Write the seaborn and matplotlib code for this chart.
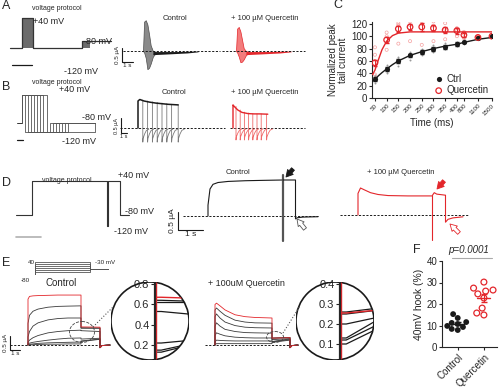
import numpy as np
import pandas as pd
import matplotlib.pyplot as plt
import seaborn as sns
from matplotlib.patches import Circle, Ellipse

# ---------------- data ----------------
# A: voltage protocol (s, mV) and current envelopes (s, uA)
A_prot_t = [0, 0.4, 0.4, 0.75, 0.75, 2.4, 2.4, 3.35]
A_prot_v = [-120, -120, 40, 40, -120, -120, -80, -80]
A_env_t = [0, 0.1, 0.25, 0.4, 0.55, 0.7, 0.9, 1.1]
A_ctrl_hi = [0, 1.05, 1.1, 0.95, 0.6, 0.2, 0.0, -0.02]
A_ctrl_lo = [0, -0.05, -0.25, -0.65, -0.6, -0.45, -0.2, -0.1]
A_querc_hi = [0, 0.8, 0.86, 0.7, 0.4, 0.1, 0.0, -0.02]
A_querc_lo = [0, -0.05, -0.2, -0.4, -0.38, -0.3, -0.15, -0.08]
A_band_t = [0.9, 2.0, 3.0, 4.0, 5.0]
A_band_hi = [-0.02, -0.02, -0.02, -0.01, 0.0]
A_band_lo = [-0.13, -0.11, -0.09, -0.07, -0.03]

# B: envelope of tail protocol
B_prot_step = [0.5, 1.0, 1.5, 2.0, 2.5, 3.0, 3.5, 4.2]
B_prot_back = [4.7, 5.2, 5.7, 6.2, 6.7, 7.2, 7.7, 12.2]
B_ctrl_t = [0, 0.3, 1.0, 2.0, 3.0, 4.0, 5.0, 6.7]
B_ctrl_env = [0.9, 0.95, 0.9, 0.86, 0.83, 0.81, 0.79, 0.77]
B_ctrl_ends = [0.8, 1.6, 2.4, 3.2, 4.0, 4.8, 5.6, 6.7]
B_ctrl_end_i = [0.93, 0.9, 0.87, 0.85, 0.83, 0.81, 0.79, 0.77]
B_querc_t = [0, 0.2, 0.8, 1.5, 2.5, 3.5, 4.5, 5.8]
B_querc_env = [0.77, 0.72, 0.6, 0.52, 0.48, 0.47, 0.47, 0.46]
B_querc_ends = [0.5, 1.2, 1.9, 2.6, 3.3, 4.0, 4.7, 5.6]
B_querc_end_i = [0.72, 0.6, 0.53, 0.5, 0.48, 0.47, 0.47, 0.46]
B_tail_dt = [0, 0.05, 0.3, 0.6, 1.0]
B_ctrl_tail = [-0.47, -0.35, -0.2, -0.08, -0.04]
B_querc_tail = [-0.4, -0.3, -0.17, -0.07, -0.03]

# C: normalized peak tail current
C_pos = [0, 1, 2, 3, 4, 5, 6, 7, 7.6, 8.8, 10.0]
C_labels = ['50', '100', '150', '200', '250', '300', '350', '400', '800', '1100', '1500']
ctrl_mean = [31, 47, 60, 69, 75, 79, 83, 87, 91, 97, 100]
ctrl_sem = [3, 3, 3, 3, 3, 3, 3, 3, 2, 2, 0]
querc_mean = [57, 94, 112, 115, 115, 113, 110, 109, 102, 98, 100]
querc_sem = [5, 5, 5, 5, 6, 5, 5, 5, 3, 2, 0]
ctrl_ind = [[24, 36, 38], [40, 44, 53], [52, 63, 66], [62, 71, 75], [70, 77, 80], [74, 80, 85],
            [80, 84, 89], [84, 88, 90], [88, 93, 95], [96, 98, 99], [100, 100, 100]]
querc_ind = [[38, 70, 82], [78, 100, 106], [88, 118, 121], [92, 118, 124], [86, 120, 126], [92, 117, 124],
             [95, 112, 121], [100, 108, 113], [97, 104, 107], [96, 99, 100], [100, 100, 100]]
C_fit_pos = [-0.2, 0, 0.3, 0.6, 1, 1.5, 2, 3, 4, 5, 6, 7, 7.6, 8.8, 10]
ctrl_fit = [27, 30, 36, 41, 47, 54, 60, 69, 75, 80, 84, 87, 90, 95, 98]
querc_fit = [38, 45, 62, 78, 92, 101, 105, 107, 107, 107, 107, 107, 107, 107, 107]

# D: hook protocol
D_prot_t = [0, 0.64, 0.64, 3.64, 3.64, 3.68, 3.68, 4.16, 4.16, 4.5]
D_prot_v = [-80, -80, 40, 40, -120, -120, 40, 40, -80, -80]
D_ctrl_t = [0, 0, 0.08, 0.2, 0.4, 0.8, 1.5, 2.2, 3.0]
D_ctrl_i = [0, 0.3, 0.75, 0.88, 0.93, 0.96, 0.98, 0.99, 1.0]
D_ctrl_post_t = [3.0, 3.5, 3.5, 3.56, 3.8, 4.4]
D_ctrl_post_i = [1.0, 1.0, -0.08, -0.05, -0.03, -0.02]
D_querc_t = [0, 0, 0.1, 0.25, 0.5, 0.8, 1.2, 2.0, 2.96]
D_querc_i = [0, 0.6, 0.75, 0.7, 0.62, 0.57, 0.54, 0.53, 0.53]
D_querc_post_t = [2.98, 3.05, 3.15, 3.5, 3.5, 3.6, 3.8, 4.2]
D_querc_post_i = [0.55, 0.62, 0.58, 0.55, -0.2, -0.12, -0.08, -0.05]

# E: step family
E_prot_v = [40, 20, 0, -20, -40, -60]
E_t = [0, 0.15, 0.5, 1.0, 2.0, 3.0, 4.0, 5.3]
E_ctrl = [[1.7, 1.8, 1.82, 1.83, 1.84, 1.85, 1.85, 1.85],
          [0.8, 1.1, 1.25, 1.33, 1.4, 1.43, 1.44, 1.45],
          [0.3, 0.5, 0.7, 0.82, 0.93, 0.98, 1.0, 1.0],
          [0.1, 0.18, 0.27, 0.35, 0.45, 0.5, 0.53, 0.55],
          [0.05, 0.07, 0.1, 0.13, 0.18, 0.22, 0.25, 0.26],
          [0.02, 0.03, 0.04, 0.06, 0.08, 0.09, 0.1, 0.11],
          [0.0, 0.01, 0.01, 0.02, 0.03, 0.03, 0.04, 0.04]]
E_ctrl_tail_s = [0.67, 0.64, 0.62, 0.53, 0.22, 0.15, 0.13]
E_ctrl_tail_e = [0.66, 0.63, 0.62, 0.50, 0.25, 0.22, 0.21]
E_q_t = [0, 0.15, 0.5, 1.0, 2.0, 3.0, 4.0, 5.7]
E_querc = [[1.5, 1.55, 1.45, 1.3, 1.12, 1.05, 1.02, 1.0],
           [1.3, 1.37, 1.25, 1.1, 0.92, 0.85, 0.82, 0.81],
           [1.05, 1.15, 1.0, 0.85, 0.72, 0.66, 0.64, 0.63],
           [0.7, 0.82, 0.7, 0.58, 0.5, 0.46, 0.45, 0.44],
           [0.35, 0.45, 0.4, 0.34, 0.29, 0.27, 0.26, 0.26],
           [0.12, 0.18, 0.17, 0.16, 0.15, 0.15, 0.15, 0.15],
           [0.02, 0.05, 0.05, 0.05, 0.05, 0.05, 0.05, 0.05]]
E_querc_tail_s = [0.255, 0.26, 0.25, 0.2, 0.13, 0.12, 0.1]
E_querc_tail_e = [0.27, 0.28, 0.27, 0.235, 0.225, 0.2, 0.18]

# F: 40 mV hook
F_ctrl = [15.3, 13.5, 11.6, 11.2, 10.7, 9.8, 9.3, 8.4, 7.9]
F_querc = [30.2, 27.4, 26.5, 26.0, 24.7, 22.8, 18.1, 15.8, 14.9]

# ---------------- layout ----------------
sns.set_theme(style='white')
plt.rcParams['font.family'] = ['Liberation Sans', 'DejaVu Sans']
plt.rcParams['axes.linewidth'] = 0.8

W, H = 500, 391
RED = '#e3262b'
DARK = '#333333'
fig = plt.figure(figsize=(W / 100, H / 100), dpi=100)
fig.patch.set_facecolor('white')


def box_ax(x0, y0, x1, y1, **kw):
    ax = fig.add_axes([x0 / W, 1 - y1 / H, (x1 - x0) / W, (y1 - y0) / H], **kw)
    ax.patch.set_alpha(0)
    return ax


def trace_ax(x0, y0, x1, y1, ox, oy, sx, sy):
    ax = box_ax(x0, y0, x1, y1)
    ax.set_xlim((x0 - ox) / sx, (x1 - ox) / sx)
    ax.set_ylim((oy - y1) / sy, (oy - y0) / sy)
    ax.axis('off')
    return ax


def scalebar(ax, t0, i0, size=5):
    ax.plot([t0, t0, t0 + 1], [i0 + 0.5, i0, i0], color='k', lw=0.8, clip_on=False)
    ax.annotate('0.5 µA', (t0, i0 + 0.25), xytext=(-1.5, 0), textcoords='offset points',
                rotation=90, ha='right', va='center', fontsize=size)
    ax.annotate('1 s', (t0 + 0.5, i0), xytext=(0, -1), textcoords='offset points',
                ha='center', va='top', fontsize=size)


def baseline(ax, t0, t1):
    ax.plot([t0, t1], [0, 0], color='k', lw=0.7, ls=(0, (2.2, 1.6)))


ov = box_ax(0, 0, W, H, zorder=20)
ov.set_xlim(0, W)
ov.set_ylim(H, 0)
ov.axis('off')


def txt(x, y, s, size=5.5, **kw):
    kw.setdefault('va', 'center')
    ov.text(x, y, s, fontsize=size, **kw)


# ---- A ----
axA = trace_ax(5, 10, 118, 72, ox=10, oy=25.5, sx=30, sy=0.1875)
axA.plot(A_prot_t, A_prot_v, color=DARK, lw=0.9)
axA.fill_between([0.4, 0.75], -120, 40, color='#6b6b6b', lw=0)
axA.fill_between([2.4, 2.67], -120, -80, color='#6b6b6b', lw=0)
axA.plot([0.07, 0.73], [-210, -210], color='k', lw=0.9)

axAc = trace_ax(112, 15, 228, 78, ox=143, oy=51, sx=11, sy=28)
baseline(axAc, -1.8, 7)
axAc.fill_between(A_env_t, A_ctrl_lo, A_ctrl_hi, color='#8a8a8a', ec='#4d4d4d', lw=0.5)
axAc.fill_between(A_band_t, A_band_lo, A_band_hi, color='k', lw=0)
scalebar(axAc, -1.9, -0.39, size=4.5)

axAq = trace_ax(220, 15, 310, 78, ox=236, oy=51, sx=11, sy=28)
baseline(axAq, -1.27, 6.3)
axAq.fill_between(A_env_t, A_querc_lo, A_querc_hi, color='#f37c7c', ec=RED, lw=0.5)
axAq.fill_between(A_band_t, A_band_lo, A_band_hi, color=RED, lw=0)

txt(2, 6, 'A', 9)
txt(32, 8, 'voltage protocol', 5)
txt(33, 21, '+40 mV', 6.5)
txt(83, 41, '-80 mV', 6.5)
txt(64, 72, '-120 mV', 6.5)
txt(163, 18, 'Control', 5.5)
txt(231, 18, '+ 100 µM Quercetin', 5.5)

# ---- B ----
axBp = trace_ax(12, 86, 100, 146, ox=22, oy=104.3, sx=6, sy=0.233)
axBp.plot([-0.8, 0], [-80, -80], color=DARK, lw=0.7)
for d, e in zip(B_prot_step, B_prot_back):
    axBp.plot([0, 0, d, d, e, e, 12.2], [-80, 40, 40, -120, -120, -80, -80], color='#555', lw=0.6)
axBp.plot([-0.83, 0.17], [-153, -153], color='k', lw=0.9)

axBc = trace_ax(110, 90, 230, 150, ox=138, oy=128, sx=6, sy=30)
baseline(axBc, -3, 14.5)
for d, ie in zip(B_ctrl_ends, B_ctrl_end_i):
    axBc.plot([d] + [d + dt for dt in B_tail_dt], [ie] + B_ctrl_tail, color='#7a7a7a', lw=0.6)
axBc.plot([0] + B_ctrl_t, [0] + B_ctrl_env, color='k', lw=1.1)
scalebar(axBc, -2.83, -0.17, size=4)

axBq = trace_ax(225, 90, 310, 150, ox=233, oy=128, sx=6, sy=30)
baseline(axBq, -0.5, 12)
for d, ie in zip(B_querc_ends, B_querc_end_i):
    axBq.plot([d] + [d + dt for dt in B_tail_dt], [ie] + B_querc_tail, color='#f06a6a', lw=0.6)
axBq.plot([0] + B_querc_t, [0] + B_querc_env, color=RED, lw=1.0)

txt(2, 87, 'B', 9)
txt(32, 83, 'voltage protocol', 5)
txt(59, 90, '+40 mV', 6.5)
txt(82, 118, '-80 mV', 6.5)
txt(62, 142, '-120 mV', 6.5)
txt(162, 93, 'Control', 5.5)
txt(231, 93, '+ 100 µM Quercetin', 5.5)

# ---- C ----
axC = box_ax(372, 22, 492, 98)
for p, c_vals, q_vals in zip(C_pos, ctrl_ind, querc_ind):
    axC.scatter([p] * len(c_vals), c_vals, s=2, color='#9a9a9a', lw=0, zorder=2)
    axC.scatter([p] * len(q_vals), q_vals, s=5, facecolor='none', edgecolor='#f5a0a0', lw=0.5, zorder=2)
fit_df = pd.DataFrame({'pos': C_fit_pos * 2, 'val': ctrl_fit + querc_fit,
                       'grp': ['Ctrl'] * len(C_fit_pos) + ['Quercetin'] * len(C_fit_pos)})
sns.lineplot(data=fit_df, x='pos', y='val', hue='grp', palette={'Ctrl': 'k', 'Quercetin': RED},
             lw=1.0, ax=axC, legend=False, zorder=3)
axC.errorbar(C_pos, ctrl_mean, yerr=ctrl_sem, fmt='none', ecolor='k', elinewidth=0.7, capsize=1.5, zorder=4)
axC.errorbar(C_pos, querc_mean, yerr=querc_sem, fmt='none', ecolor=RED, elinewidth=0.7, capsize=1.5, zorder=4)
pts = pd.DataFrame({'pos': C_pos * 2, 'val': ctrl_mean + querc_mean,
                    'grp': ['Ctrl'] * len(C_pos) + ['Quercetin'] * len(C_pos)})
sns.scatterplot(data=pts[pts.grp == 'Ctrl'], x='pos', y='val', color='k', s=14, lw=0,
                ax=axC, zorder=5, label='Ctrl')
sns.scatterplot(data=pts[pts.grp == 'Quercetin'], x='pos', y='val', facecolor='none', edgecolor=RED,
                s=16, lw=0.9, ax=axC, zorder=5, label='Quercetin')
axC.set_xlim(-0.25, 10.0)
axC.set_ylim(0, 123)
axC.set_yticks(range(0, 121, 20))
axC.set_xticks(C_pos)
axC.set_xticklabels(C_labels, rotation=45, ha='right', rotation_mode='anchor', fontsize=4.5)
axC.tick_params(axis='y', labelsize=7, length=2.5, width=0.8, pad=1, left=True)
axC.tick_params(axis='x', length=2.5, width=0.8, pad=1, bottom=True)
sns.despine(ax=axC)
axC.set_xlabel('Time (ms)', fontsize=7, labelpad=1)
axC.set_ylabel('Normalized peak\ntail current', fontsize=7, labelpad=2, linespacing=1.0)
axC.legend(loc='lower right', bbox_to_anchor=(1.02, -0.04), frameon=False, fontsize=7,
           handletextpad=0.3, borderpad=0.1, labelspacing=0.15, handlelength=1.0)
txt(333, 5, 'C', 9)

# ---- D ----
axDp = trace_ax(10, 168, 150, 242, ox=16, oy=192.3, sx=25, sy=0.283)
axDp.plot(D_prot_t, D_prot_v, color=DARK, lw=0.8)
axDp.plot([0, 1], [-158, -158], color='#b0b0b0', lw=1.2)

axDc = trace_ax(160, 168, 330, 242, ox=208, oy=216, sx=25, sy=36)
baseline(axDc, -1, 4.4)
axDc.plot(D_ctrl_t, D_ctrl_i, color='k', lw=0.8)
axDc.plot([3.0, 3.0], [1.15, -0.7], color='#555', lw=1.6)
axDc.plot(D_ctrl_post_t, D_ctrl_post_i, color='k', lw=0.8)
scalebar(axDc, -1.2, -0.39, size=6)

axDq = trace_ax(335, 168, 475, 242, ox=358, oy=215, sx=25, sy=36)
baseline(axDq, -0.72, 4.4)
axDq.plot(D_querc_t, D_querc_i, color=RED, lw=0.8)
axDq.plot([2.97, 2.97], [0.55, -0.7], color=RED, lw=0.8)
axDq.plot(D_querc_post_t, D_querc_post_i, color=RED, lw=0.8)

arrow_k = dict(arrowstyle='simple,head_width=0.9,head_length=0.8,tail_width=0.45', lw=0.6,
               mutation_scale=6, shrinkA=0, shrinkB=0)
ov.annotate('', xy=(286, 177), xytext=(293, 169), arrowprops=dict(fc='k', ec='k', **arrow_k))
ov.annotate('', xy=(297, 219), xytext=(305, 229), arrowprops=dict(fc='white', ec='#555', **arrow_k))
ov.annotate('', xy=(437, 189), xytext=(444, 181), arrowprops=dict(fc=RED, ec=RED, **arrow_k))
ov.annotate('', xy=(450, 224), xytext=(459, 233), arrowprops=dict(fc='white', ec=RED, **arrow_k))

txt(2, 183, 'D', 9)
txt(42, 180, 'voltage protocol', 5)
txt(118, 176, '+40 mV', 6.5)
txt(125, 211, '-80 mV', 6.5)
txt(114, 232, '-120 mV', 6.5)
txt(226, 173, 'Control', 5.5)
txt(367, 173, '+ 100 µM Quercetin', 5.5)

# ---- E ----
axEp = trace_ax(30, 256, 115, 280, ox=35, oy=266, sx=10, sy=0.1)
for v in E_prot_v:
    axEp.plot([0, 0, 5.5, 5.5, 7.3], [-80, v, v, -30, -30], color='#555', lw=0.6)

axEc = trace_ax(3, 285, 112, 362, ox=28, oy=345, sx=10, sy=27)
baseline(axEc, -1.8, 8.2)
for k, (sweep, ts, te) in enumerate(zip(E_ctrl, E_ctrl_tail_s, E_ctrl_tail_e)):
    axEc.plot([0] + E_t + [5.3, 7.2, 7.2, 7.4, 8.2], [0] + sweep + [ts, te, -0.1, -0.02, 0],
              color=RED if k == 0 else '#3a3a3a', lw=0.6, zorder=3 if k == 0 else 2)
scalebar(axEc, -1.8, -0.185, size=4.5)

axEq = trace_ax(200, 285, 300, 362, ox=215, oy=345, sx=10, sy=27)
baseline(axEq, -1, 8.3)
for k, (sweep, ts, te) in enumerate(zip(E_querc, E_querc_tail_s, E_querc_tail_e)):
    axEq.plot([0] + E_q_t + [5.7, 7.5, 7.5, 7.7, 8.3], [0] + sweep + [ts, te, -0.1, -0.02, 0],
              color=RED if k == 0 else '#3a3a3a', lw=0.6, zorder=3 if k == 0 else 2)


def zoom_circle(x0, y0, size, spine_frac, ylim, ticks, tail_s, tail_e):
    ax = box_ax(x0, y0, x0 + size, y0 + size)
    ax.set_xlim(-spine_frac, 1 - spine_frac)
    ax.set_ylim(*ylim)
    circ = Circle((0.5, 0.5), 0.5, transform=ax.transAxes, fill=False, ec='k', lw=1.2)
    ax.add_patch(circ)
    for k, (s, e) in enumerate(zip(tail_s, tail_e)):
        ax.plot([0.02, 0.08, 0.5], [s, s, e], color=RED if k == 0 else 'k', lw=1.0 if k == 0 else 0.9,
                zorder=3 if k == 0 else 2)
    ax.plot([0.012, 0.012], ylim, color=RED, lw=1.0)
    for line in ax.lines:
        line.set_clip_path(circ)
    for side in ['top', 'right', 'bottom']:
        ax.spines[side].set_visible(False)
    ax.spines['left'].set_position(('data', 0))
    ax.spines['left'].set_linewidth(1.6)
    ax.spines['left'].set_clip_path(circ)
    ax.set_xticks([])
    ax.set_yticks(ticks)
    ax.set_yticklabels([f'{t:.1f}' for t in ticks])
    ax.tick_params(axis='y', labelsize=8, length=3, width=0.8, pad=1, left=True)
    return ax


zoom_circle(111, 282, 78, 0.564, (0.053, 0.82), [0.2, 0.4, 0.6, 0.8], E_ctrl_tail_s, E_ctrl_tail_e)
zoom_circle(296, 282, 78, 0.564, (0.02, 0.41), [0.1, 0.2, 0.3, 0.4], E_querc_tail_s, E_querc_tail_e)

ov.add_patch(Ellipse((82, 332), 25, 21, fill=False, ec='#444', ls='--', lw=0.6))
ov.plot([93, 114], [327, 306], color='#555', ls=':', lw=0.8)
ov.add_patch(Ellipse((275, 337), 17, 11, fill=False, ec='#444', ls='--', lw=0.6))
ov.plot([283, 300], [333, 306], color='#555', ls=':', lw=0.8)

txt(2, 263, 'E', 9)
txt(28, 262, '40', 4.5)
txt(21, 280, '-80', 4.5)
txt(95, 263, '-30 mV', 4.5)
txt(45, 283, 'Control', 7)
txt(208, 283, '+ 100uM Quercetin', 6.5)

# ---- F ----
axF = box_ax(442, 261, 497, 347)
df_f = pd.DataFrame({'group': ['Control'] * len(F_ctrl) + ['Quercetin'] * len(F_querc),
                     'hook': F_ctrl + F_querc})
sns.swarmplot(data=df_f, x='group', y='hook', hue='group', palette={'Control': 'k', 'Quercetin': RED},
              size=4.2, ax=axF, legend=False)
axF.collections[1].set_facecolor('none')
axF.collections[1].set_edgecolor(RED)
axF.collections[1].set_linewidth(0.9)
for i, (vals, col) in enumerate([(F_ctrl, 'k'), (F_querc, RED)]):
    m = np.mean(vals)
    s = np.std(vals, ddof=1) / np.sqrt(len(vals))
    axF.plot([i - 0.25, i + 0.25], [m, m], color=col, lw=1.0)
    axF.errorbar(i, m, yerr=s, color=col, capsize=2.5, lw=0.8)
axF.set_xlim(-0.6, 1.5)
axF.set_ylim(0, 40)
axF.set_yticks(range(0, 41, 10))
axF.set_xlabel('')
axF.set_ylabel('40mV hook (%)', fontsize=7.5, labelpad=2)
axF.set_xticks([0, 1])
axF.set_xticklabels(['Control', 'Quercetin'], rotation=45, ha='right', rotation_mode='anchor', fontsize=7)
axF.tick_params(axis='y', labelsize=7, length=2.5, width=0.8, pad=1, left=True)
axF.tick_params(axis='x', length=2.5, width=0.8, pad=1, bottom=True)
sns.despine(ax=axF)
ov.plot([452, 492], [258, 258], color='#aaa', lw=0.8)
txt(448, 250, 'p=0.0001', 7, style='italic')
txt(413, 250, 'F', 9)

fig.savefig('out.png', dpi=100)
